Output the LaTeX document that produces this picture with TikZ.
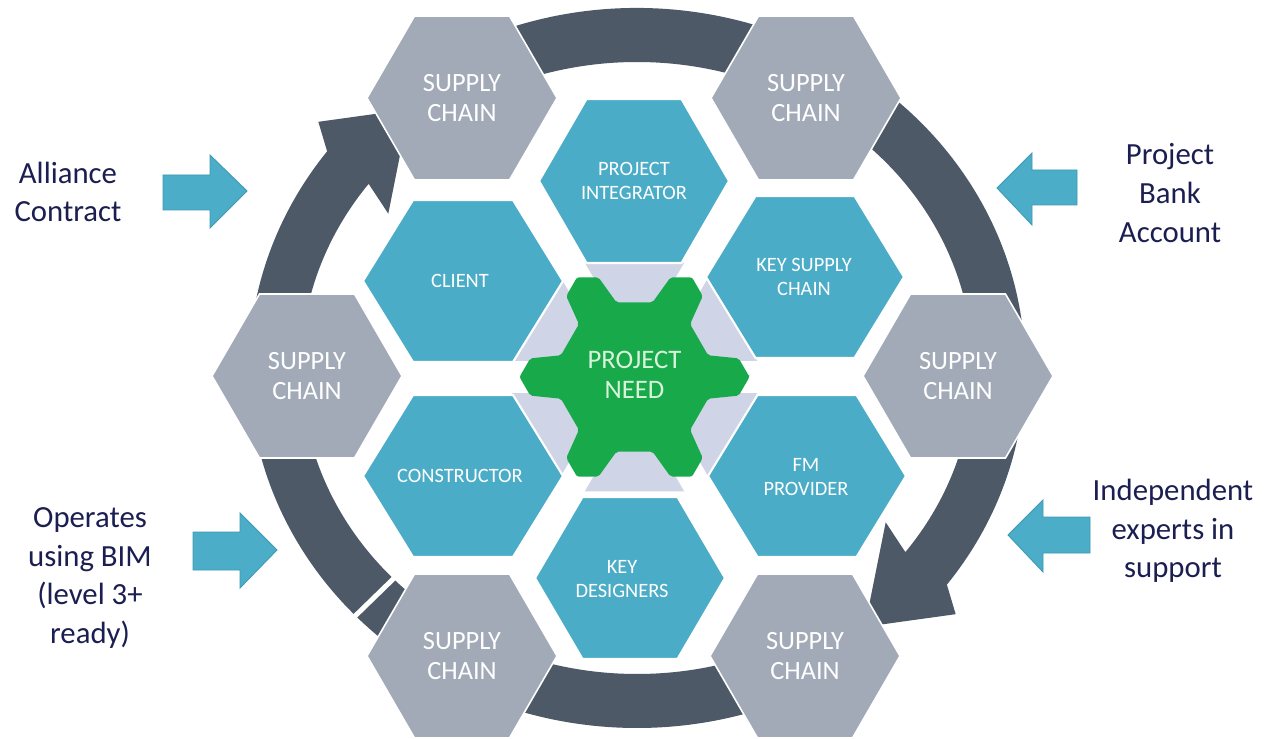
\documentclass[tikz,border=0pt]{standalone}
\usepackage{fontspec}
\setmainfont{Carlito}
\definecolor{ringc}{HTML}{4E5968}
\definecolor{hexgrey}{HTML}{A2AAB8}
\definecolor{hexblue}{HTML}{4AACC6}
\definecolor{needgreen}{HTML}{17A94A}
\definecolor{needtext}{HTML}{D8F3DA}
\definecolor{lav}{HTML}{CFD5E6}
\definecolor{arrowblue}{HTML}{4BADC7}
\definecolor{arrowedge}{HTML}{3E9AB4}
\definecolor{navy}{HTML}{1B1E50}
\tikzset{
 greyhex/.style={fill=hexgrey, draw=white, line width=0.9pt},
 bluehex/.style={fill=hexblue, draw=white, line width=1.2pt},
 greytext/.style={text=white, align=center, font=\fontsize{15}{17}\selectfont},
 bluetext/.style={text=white, align=center, font=\fontsize{11.6}{13.6}\selectfont},
 lbl/.style={text=navy, align=center, font=\fontsize{17.5}{22}\selectfont},
 blockarrow/.style={fill=arrowblue, draw=arrowedge, line width=0.5pt},
 band/.style={fill=ringc}
}
% #1 style, #2 cx, #3 cy, #4 half width, #5 half height
\newcommand\hexfill[5]{\filldraw[#1] ({#2+#4},{#3}) -- ({#2+#4/2},{#3+#5}) -- ({#2-#4/2},{#3+#5}) -- ({#2-#4},{#3}) -- ({#2-#4/2},{#3-#5}) -- ({#2+#4/2},{#3-#5}) -- cycle;}
\begin{document}
\begin{tikzpicture}[x=0.02cm,y=0.02cm]
\useasboundingbox (0,0) rectangle (1274,-739);
\fill[white] (0,0) rectangle (1274,-739);

% ring segments
\fill[band] ({637+388*cos(185)},{-368+360*sin(185)}) arc[start angle=185,end angle=143,x radius=388,y radius=360]
 -- ({637+416*cos(140)},{-368+383*sin(140)})
 -- ({637+362*cos(129)},{-368+333*sin(129)})
 -- ({637+300*cos(146)},{-368+276*sin(146)})
 -- ({637+336*cos(143)},{-368+306*sin(143)})
 arc[start angle=143,end angle=185,x radius=336,y radius=306] -- cycle;
\fill[band] ({637+388*cos(120)},{-368+360*sin(120)}) arc[start angle=120,end angle=-37,x radius=388,y radius=360]
 -- ({637+416*cos(-40)},{-368+383*sin(-40)})
 -- ({637+362*cos(-51)},{-368+333*sin(-51)})
 -- ({637+300*cos(-34)},{-368+276*sin(-34)})
 -- ({637+336*cos(-37)},{-368+306*sin(-37)})
 arc[start angle=-37,end angle=120,x radius=336,y radius=306] -- cycle;
\fill[band] ({637+388*cos(-60)},{-368+360*sin(-60)}) arc[start angle=-60,end angle=-175,x radius=388,y radius=360]
 -- ({637+336*cos(-175)},{-368+306*sin(-175)})
 arc[start angle=-175,end angle=-60,x radius=336,y radius=306] -- cycle;
\draw[white,line width=2.8pt] ({637+400*cos(-136.5)},{-368+372*sin(-136.5)}) -- ({637+322*cos(-136.5)},{-368+292*sin(-136.5)});

% centre background
\begin{scope}[shift={(634.5,-377)}]
\fill[lav] (0:132) -- (60:132) -- (120:132) -- (180:132) -- (240:132) -- (300:132) -- cycle;
\foreach \a in {60,120,240,300} \draw[white,line width=0.56cm] (0,0) -- (\a:175);
\foreach \a in {0,180} \draw[white,line width=0.66cm] (0,0) -- (\a:175);
\end{scope}

% outer hexagons
\hexfill{greyhex}{462}{-98}{95}{82}
\hexfill{greyhex}{806}{-98}{95}{82}
\hexfill{greyhex}{307}{-376}{95}{82}
\hexfill{greyhex}{958}{-376}{95}{82}
\hexfill{greyhex}{462}{-656}{95}{82}
\hexfill{greyhex}{805}{-656}{95}{82}
\node[greytext] (sctl) at (462,-98) {SUPPLY\\CHAIN};
\node[greytext] (sctr) at (806,-98) {SUPPLY\\CHAIN};
\node[greytext] (scl) at (307,-376) {SUPPLY\\CHAIN};
\node[greytext] (scr) at (958,-376) {SUPPLY\\CHAIN};
\node[greytext] (scbl) at (462,-656) {SUPPLY\\CHAIN};
\node[greytext] (scbr) at (805,-656) {SUPPLY\\CHAIN};

% inner hexagons
\hexfill{bluehex}{634}{-181}{95}{82}
\hexfill{bluehex}{805}{-277}{99}{81}
\hexfill{bluehex}{807}{-476}{99}{81}
\hexfill{bluehex}{630}{-578}{95}{81}
\hexfill{bluehex}{463}{-476}{100}{81}
\hexfill{bluehex}{463}{-281}{100}{81}
\node[bluetext] (pi) at (634,-181) {PROJECT\\INTEGRATOR};
\node[bluetext] (ksc) at (804,-277) {KEY SUPPLY\\CHAIN};
\node[bluetext] (fm) at (806,-477) {FM\\PROVIDER};
\node[bluetext] (kd) at (622,-579) {KEY\\DESIGNERS};
\node[bluetext] (con) at (460,-476) {CONSTRUCTOR};
\node[bluetext] (cli) at (460,-281) {CLIENT};

% centre shape
\begin{scope}[shift={(634.5,-377)}]
\fill[needgreen, rounded corners=1.2pt] (0:115)
 \foreach \m in {30,90,150,210,270,330} {
  -- ({\m-19.87}:105.9) -- ({\m-13.57}:76.73) -- ({\m+13.57}:76.73) -- ({\m+19.87}:105.9) -- ({\m+30}:115)
 } -- cycle;
\end{scope}
\node[text=needtext, align=center, font=\fontsize{15.2}{17}\selectfont] (need) at (634.5,-375) {PROJECT\\NEED};

% side arrows
\fill[blockarrow] (163,-175) -- (210,-175) -- (210,-155) -- (247,-191) -- (210,-228) -- (210,-210) -- (163,-210) -- cycle;
\fill[blockarrow] (1077,-170) -- (1032,-170) -- (1032,-153) -- (997,-188) -- (1032,-225) -- (1032,-205) -- (1077,-205) -- cycle;
\fill[blockarrow] (193,-532) -- (240,-532) -- (240,-513) -- (277,-550) -- (240,-588) -- (240,-570) -- (193,-570) -- cycle;
\fill[blockarrow] (1090,-517) -- (1043,-517) -- (1043,-500) -- (1008,-535) -- (1043,-572) -- (1043,-553) -- (1090,-553) -- cycle;

% labels
\node[lbl] (alliance) at (68,-192) {Alliance\\Contract};
\node[lbl] (pba) at (1170,-193) {Project\\Bank\\Account};
\node[lbl] (bim) at (90,-578) {Operates\\using BIM\\(level 3+\\ready)};
\node[lbl] (indep) at (1173,-531) {Independent\\experts in\\support};
\end{tikzpicture}
\end{document}
